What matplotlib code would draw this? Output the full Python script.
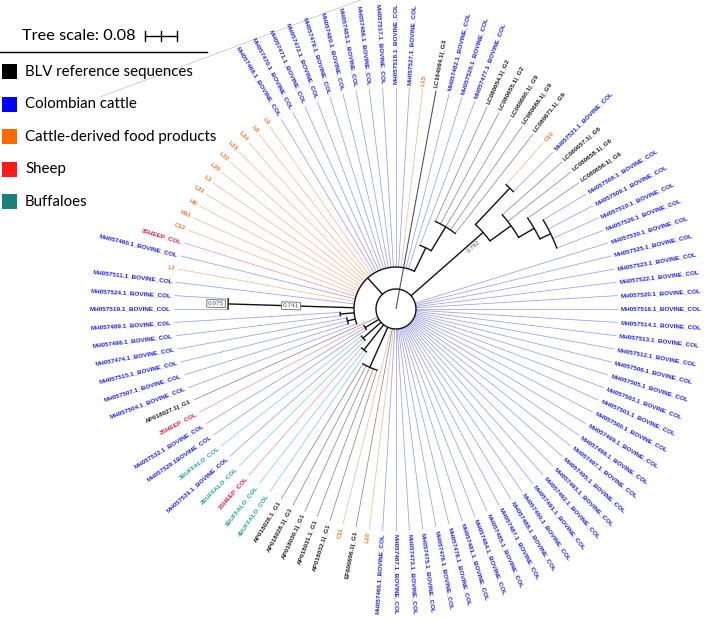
import numpy as np
import matplotlib
matplotlib.use('Agg')
import matplotlib.pyplot as plt
from matplotlib.patches import Rectangle

# leaves in angular order, counter-clockwise from 3 o'clock
LEAVES = [
    'MH057516.1_BOVINE_COL', 'MH057520.1_BOVINE_COL', 'MH057522.1_BOVINE_COL', 'MH057523.1_BOVINE_COL',
    'MH057525.1_BOVINE_COL', 'MH057530.1_BOVINE_COL', 'MH057526.1_BOVINE_COL', 'MH057510.1_BOVINE_COL',
    'MH057509.1_BOVINE_COL', 'MH057508.1_BOVINE_COL', 'LC080656.1|_G6', 'LC080658.1|_G6', 'LC080657.1|_G6',
    'MH057521.1_BOVINE_COL', 'C10', 'LC080671.1|_G9', 'LC080668.1|_G9', 'LC080660.1|_G9', 'LC080655.1|_G2',
    'LC080654.1|_G2', 'MH057477.1_BOVINE_COL', 'MH057528.1_BOVINE_COL', 'MH057482.1_BOVINE_COL',
    'LC164094.1|_G3', 'L15', 'MH057527.1_BOVINE_COL', 'MH057518.1_BOVINE_COL', 'MH057517.1_BOVINE_COL',
    'MH057486.1_BOVINE_COL', 'MH057483.1_BOVINE_COL', 'MH057480.1_BOVINE_COL', 'MH057479.1_BOVINE_COL',
    'MH057472.1_BOVINE_COL', 'MH057471.1_BOVINE_COL', 'MH057470.1_BOVINE_COL', 'MH057468.1_BOVINE_COL',
    'L9', 'L8', 'L34', 'L33', 'L32', 'L30', 'L3', 'L21', 'H9', 'H11', 'C12', '3SHEEP_COL',
    'MH057460.1_BOVINE_COL', 'L7', 'MH057511.1_BOVINE_COL', 'MH057524.1_BOVINE_COL', 'MH057519.1_BOVINE_COL',
    'MH057489.1_BOVINE_COL', 'MH057496.1_BOVINE_COL', 'MH057474.1_BOVINE_COL', 'MH057515.1_BOVINE_COL',
    'MH057507.1_BOVINE_COL', 'MH057504.1_BOVINE_COL', 'AP018027.1|_G1', '2SHEEP_COL',
    'MH057532.1_BOVINE_COL', 'MH057529.1BOVINE_COL', '3BUFFALO_COL', 'MH057531.1_BOVINE_COL',
    '2BUFFALO_COL', '1SHEEP_COL', '1BUFFALO_COL', '4BUFFALO_COL', 'AP018026.1_G1', 'AP018028.1|_G1',
    'AP018030.1|_G1', 'AP018031.1_G1', 'AP018032.1|_G1', 'C11', 'EF600696.1|_G1', 'L20',
    'MH057466.1_BOVINE_COL', 'MH057467.1_BOVINE_COL', 'MH057473.1_BOVINE_COL', 'MH057475.1_BOVINE_COL',
    'MH057476.1_BOVINE_COL', 'MH057478.1_BOVINE_COL', 'MH057481.1_BOVINE_COL', 'MH057484.1_BOVINE_COL',
    'MH057485.1_BOVINE_COL', 'MH057487.1_BOVINE_COL', 'MH057488.1_BOVINE_COL', 'MH057490.1_BOVINE_COL',
    'MH057491.1_BOVINE_COL', 'MH057492.1_BOVINE_COL', 'MH057493.1_BOVINE_COL', 'MH057495.1_BOVINE_COL',
    'MH057497.1_BOVINE_COL', 'MH057498.1_BOVINE_COL', 'MH057499.1_BOVINE_COL', 'MH057500.1_BOVINE_COL',
    'MH057501.1_BOVINE_COL', 'MH057503.1_BOVINE_COL', 'MH057505.1_BOVINE_COL', 'MH057506.1_BOVINE_COL',
    'MH057512.1_BOVINE_COL', 'MH057513.1_BOVINE_COL', 'MH057514.1_BOVINE_COL',
]

# approximate topology: (node depth, children); ints are leaf indices
N2 = (0.43, [6, 7, 8, 9])
N1 = (0.40, [10, N2])
G6 = (0.355, [11, 12, N1])
C10C = (0.415, [13, 14])
RC = (0.29, [G6, C10C])                       # support 0.792
L3 = (0.24, [15, 16, 17, 18, 19])
L2 = (0.17, [L3, 20])
N975 = (0.42, [51, 52])                       # support 0.975 (stem 0.741)
S1 = (0.14, [53, 54])
S2 = (0.125, [55, 56, 57])
UL = (0.105, [L2, 21, 22] + list(range(24, 51)) + [N975, S1, S2, 58])
SH = (0.09, [60, 61, 62])
BU = (0.11, [63, 64, 65])
BU2 = (0.13, [66, 67, 68])
AP = (0.16, [69, 70, 71, 72, 73])
N0 = (0.05, [RC, UL, 59, SH, BU, BU2, AP, 74, 75, 76] + list(range(77, 104)) + list(range(0, 6)))
OUTGROUP = 23
TIP = 0.555

LEGEND = ['BLV reference sequences', 'Colombian cattle', 'Cattle-derived food products', 'Sheep', 'Buffaloes']
LEG_COL = ['#000000', '#0000ff', '#ff6a00', '#ff1a1a', '#1b7f7b']
LINE_COL = {'ref': '#8a8a8a', 'bov': '#9c9cf2', 'food': '#f4bb92', 'sheep': '#f29aab', 'buf': '#86d3c7'}
TXT_COL = {'ref': '#222222', 'bov': '#2323e6', 'food': '#ec7a30', 'sheep': '#e3224c', 'buf': '#2aa697'}

def group(name):
    if 'BOVINE' in name: return 'bov'
    if 'SHEEP' in name: return 'sheep'
    if 'BUFFALO' in name: return 'buf'
    if '_G' in name: return 'ref'
    return 'food'

CX, CY, PX = 396, 309, 400.0
N = len(LEAVES)
ang = np.arange(N) * 360.0 / N

fig = plt.figure(figsize=(7.06, 6.2), dpi=100)
ax = fig.add_axes([0, 0, 1, 1])
ax.set_xlim(0, 706); ax.set_ylim(620, 0); ax.axis('off')

def pt(a, r):
    t = np.radians(a)
    return CX + r * np.cos(t), CY - r * np.sin(t)

def radial(a, r0, r1, c, lw, z):
    (x0, y0), (x1, y1) = pt(a, r0), pt(a, r1)
    ax.plot([x0, x1], [y0, y1], color=c, lw=lw, zorder=z, solid_capstyle='butt')

node_ang = {}
def draw(node):
    depth, kids = node
    r = depth * PX
    angs = []
    for k in kids:
        if isinstance(k, tuple):
            a = draw(k)
            radial(a, r, k[0] * PX, '#111111', 1.0, 3)
        else:
            a = ang[k]
            radial(a, r, TIP * PX, LINE_COL[group(LEAVES[k])], 0.55, 1)
        angs.append(a)
    t = np.linspace(min(angs), max(angs), 200)
    xs, ys = pt(t, r)
    ax.plot(xs, ys, color='#111111', lw=1.0, zorder=3)
    node_ang[id(node)] = (min(angs) + max(angs)) / 2
    return node_ang[id(node)]

draw(N0)
radial(ang[OUTGROUP], 0, TIP * PX, '#555555', 0.8, 2)

# leaf labels
for i, name in enumerate(LEAVES):
    a = ang[i]
    x, y = pt(a, TIP * PX + 3)
    if 90 < a < 270:
        rot, ha = a - 180, 'right'
    else:
        rot, ha = (a if a <= 90 else a - 360), 'left'
    ax.text(x, y, name, rotation=rot, rotation_mode='anchor', ha=ha, va='center',
            fontsize=4.6, fontweight='bold', family='Liberation Sans', color=TXT_COL[group(name)])

# support values
a = node_ang[id(RC)]
x, y = pt(a - 2.5, 0.25 * PX)
ax.text(x, y, '0.792', rotation=a, rotation_mode='anchor', ha='center', va='center',
        fontsize=4.6, family='Liberation Sans', color='#555555')
a = node_ang[id(N975)]
for r, s in [((UL[0] + N975[0]) / 2 * PX, '0.741'), (N975[0] * PX + 12, '0.975')]:
    x, y = pt(a, r)
    ax.text(x, y, s, rotation=a - 180, rotation_mode='anchor', ha='center', va='center',
            fontsize=4.6, family='Liberation Sans', color='#555555', zorder=5,
            bbox=dict(boxstyle='square,pad=0.2', fc='white', ec='#666666', lw=0.6))

# tree scale and legend
ax.plot([100, 363], [97, -1], color='#c8c8c8', lw=0.6, zorder=0)
ax.text(22, 36, 'Tree scale: 0.08', fontsize=11.8, family='Lato', va='center', ha='left')
ax.plot([145, 177], [36, 36], color='black', lw=1.0)
for xt in (145, 161, 177):
    ax.plot([xt, xt], [31, 41], color='black', lw=1.0)
ax.plot([0, 207], [52, 52], color='black', lw=1.0)
for j, (lab, c) in enumerate(zip(LEGEND, LEG_COL)):
    yc = 72 + j * 32.5
    ax.add_patch(Rectangle((2, yc - 8), 15, 15, fc=c, ec='none'))
    ax.text(25, yc, lab, fontsize=10.8, family='Lato', va='center', ha='left')

plt.savefig('out.png', dpi=100, facecolor='white')
plt.close()
